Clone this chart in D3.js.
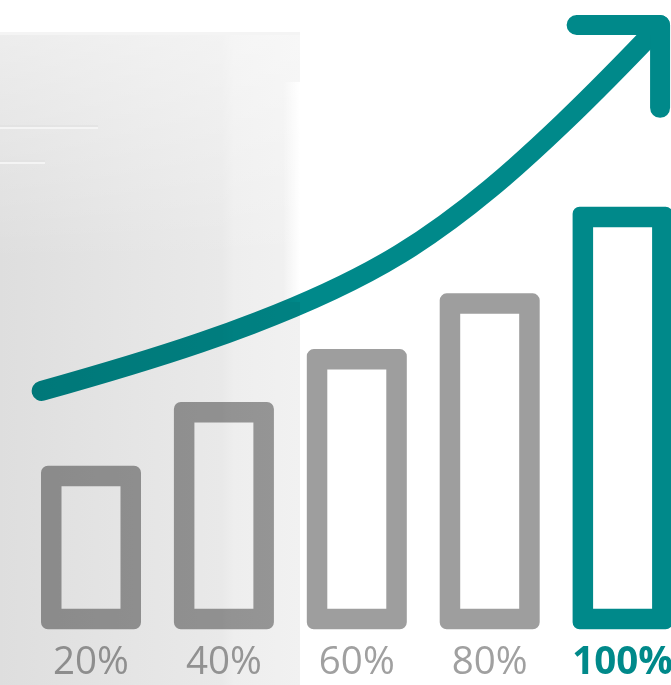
<!DOCTYPE html>
<html>
<head>
<meta charset="utf-8">
<script src="https://cdn.jsdelivr.net/npm/d3@7"></script>
<style>
	html,
	body {
		margin: 0;
		padding: 0;
		background: #fff;
		overflow: hidden;
	}
</style>
</head>
<body>
<svg id="chart" width="671" height="685"></svg>
<script>
// Chart data.
const labels = ['20%', '40%', '60%', '80%', '100%'];
const barValues = [38.7, 53.8, 66.3, 79.5, 100];
const highlightLabel = '100%';

// Trend arrow, in bar index / value units.
const trendIndex = [-0.371, 0.82, 2.325, 3.552, 4.282];
const trendValues = [56.4, 67.8, 88.8, 119.8, 143];
const arrowArmIndex = 3.654;
const arrowArmValue = 123.4;

const width = 671;
const height = 685;
const teal = '#00898a';
const grey = '#9e9e9e';
const barStroke = 20.5;

const svg = d3.select('#chart');
const defs = svg.append('defs');

// Faded photo backdrop on the left.
const bgGrad = defs.append('linearGradient').attr('id', 'bg-grad').attr('x1', 0).attr('x2', 1).attr('y1', 0).attr('y2', 0);
[
	[0, '#dedede'],
	[0.45, '#e5e5e5'],
	[0.74, '#e9e9e9'],
	[0.78, '#eeeeee'],
	[1, '#f1f1f1'],
].forEach(([o, c]) => bgGrad.append('stop').attr('offset', o).attr('stop-color', c));

const topGrad = defs.append('linearGradient').attr('id', 'top-grad').attr('x1', 0).attr('x2', 0).attr('y1', 0).attr('y2', 1);
topGrad.append('stop').attr('offset', 0).attr('stop-color', '#fff').attr('stop-opacity', 0.45);
topGrad.append('stop').attr('offset', 0.35).attr('stop-color', '#fff').attr('stop-opacity', 0);

const edgeGrad = defs.append('linearGradient').attr('id', 'edge-grad').attr('x1', 0).attr('x2', 1).attr('y1', 0).attr('y2', 0);
edgeGrad.append('stop').attr('offset', 0).attr('stop-color', '#fff').attr('stop-opacity', 0);
edgeGrad.append('stop').attr('offset', 1).attr('stop-color', '#fff').attr('stop-opacity', 1);

const bg = svg.append('g').attr('class', 'backdrop');
bg.append('rect').attr('x', 0).attr('y', 32).attr('width', 300).attr('height', height - 32).attr('fill', 'url(#bg-grad)');
bg.append('rect').attr('x', 0).attr('y', 32).attr('width', 300).attr('height', height - 32).attr('fill', 'url(#top-grad)');
bg.append('rect').attr('x', 283).attr('y', 82).attr('width', 17).attr('height', 220).attr('fill', 'url(#edge-grad)');
bg.append('rect').attr('x', 0).attr('y', 32).attr('width', 300).attr('height', 3).attr('fill', '#f4f4f4');
// faint shelf lines of the photo
bg.append('line').attr('x1', 0).attr('x2', 98).attr('y1', 126).attr('y2', 126).attr('stroke', '#e2e2e2').attr('stroke-width', 1.5);
bg.append('line').attr('x1', 0).attr('x2', 98).attr('y1', 128).attr('y2', 128).attr('stroke', '#f4f4f4').attr('stroke-width', 2);
bg.append('line').attr('x1', 0).attr('x2', 45).attr('y1', 161).attr('y2', 161).attr('stroke', '#e2e2e2').attr('stroke-width', 1.5);
bg.append('line').attr('x1', 0).attr('x2', 45).attr('y1', 163).attr('y2', 163).attr('stroke', '#f4f4f4').attr('stroke-width', 2);

// Scales.
const x = d3.scaleBand().domain(labels).range([41, 672.6]).paddingInner(0.2476).paddingOuter(0);
const y = d3.scaleLinear().domain([0, 100]).range([629.3, 206.7]);
const xPos = d3
	.scaleLinear()
	.domain([0, labels.length - 1])
	.range([x(labels[0]) + x.bandwidth() / 2, x(labels[labels.length - 1]) + x.bandwidth() / 2]);

const marks = svg.append('g').attr('class', 'marks').style('mix-blend-mode', 'multiply');

// Outlined bars: rounded outer edge, square inner edge.
function barPath(x0, y0, w, h) {
	const r = 7;
	const s = barStroke;
	const p = d3.path();
	p.moveTo(x0 + r, y0);
	p.lineTo(x0 + w - r, y0);
	p.arcTo(x0 + w, y0, x0 + w, y0 + r, r);
	p.lineTo(x0 + w, y0 + h - r);
	p.arcTo(x0 + w, y0 + h, x0 + w - r, y0 + h, r);
	p.lineTo(x0 + r, y0 + h);
	p.arcTo(x0, y0 + h, x0, y0 + h - r, r);
	p.lineTo(x0, y0 + r);
	p.arcTo(x0, y0, x0 + r, y0, r);
	p.closePath();
	p.rect(x0 + s, y0 + s, w - 2 * s, h - 2 * s);
	return p.toString();
}

marks
	.selectAll('path.bar')
	.data(labels)
	.join('path')
	.attr('class', 'bar')
	.attr('fill-rule', 'evenodd')
	.attr('fill', d => (d === highlightLabel ? teal : grey))
	.attr('d', (d, i) => barPath(x(d), y(barValues[i]), x.bandwidth(), y(0) - y(barValues[i])));

// Category labels.
marks
	.selectAll('text.label')
	.data(labels)
	.join('text')
	.attr('class', 'label')
	.attr('x', d => x(d) + x.bandwidth() / 2)
	.attr('y', 674)
	.attr('text-anchor', 'middle')
	.attr('font-family', '"Open Sans", sans-serif')
	.attr('font-size', 38.5)
	.attr('font-weight', d => (d === highlightLabel ? 700 : 400))
	.attr('fill', d => (d === highlightLabel ? teal : '#a0a0a0'))
	.text(d => d);

// Growth arrow.
const trend = trendIndex.map((t, i) => [xPos(t), y(trendValues[i])]);

marks
	.append('path')
	.attr('class', 'trend')
	.attr('fill', 'none')
	.attr('stroke', teal)
	.attr('stroke-width', 20)
	.attr('stroke-linecap', 'round')
	.attr('d', d3.line().curve(d3.curveNatural)(trend));

const tip = trend[trend.length - 1];
marks
	.append('path')
	.attr('class', 'arrow-head')
	.attr('fill', 'none')
	.attr('stroke', teal)
	.attr('stroke-width', 20)
	.attr('stroke-linecap', 'round')
	.attr('stroke-linejoin', 'round')
	.attr('d', d3.line()([[xPos(arrowArmIndex), tip[1]], tip, [tip[0], y(arrowArmValue)]]));
</script>
</body>
</html>
